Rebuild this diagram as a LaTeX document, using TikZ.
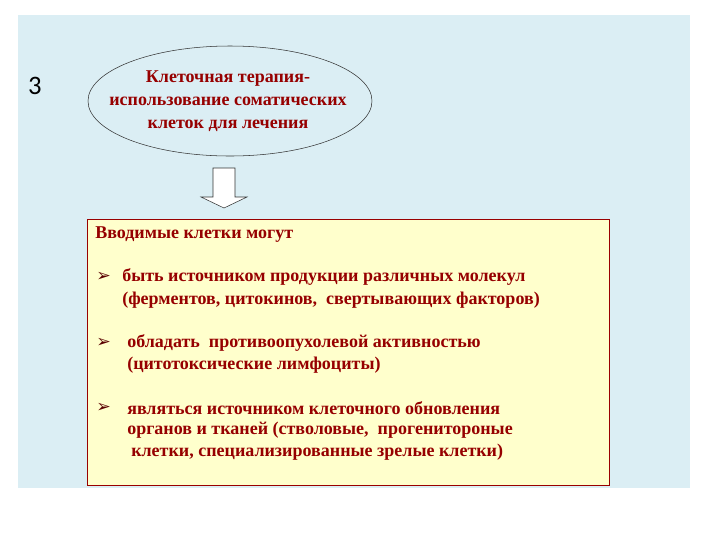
\documentclass[tikz,border=0pt]{standalone}
\usepackage{fontspec}
\setmainfont{Liberation Serif}
\newfontfamily\symf{DejaVu Sans}
\newfontfamily\numf{Carlito}
\definecolor{bgblue}{RGB}{219,238,244}
\definecolor{txtred}{RGB}{150,0,0}
\definecolor{boxyel}{RGB}{255,255,204}
\begin{document}
\begin{tikzpicture}[x=0.75pt,y=-0.75pt,
  ln/.style={anchor=west,inner sep=0pt,text=txtred,font=\bfseries\fontsize{13.5}{16}\selectfont},
  bul/.style={anchor=west,inner sep=0pt,text=txtred!60!black,font=\symf\fontsize{13}{14}\selectfont}]
\useasboundingbox (0,0) rectangle (720,540);
\fill[white] (0,0) rectangle (720,540);
\fill[bgblue] (18,15) rectangle (690,488);
\node[text=black,font=\numf\fontsize{20}{22}\selectfont] (num) at (35,86) {3};
\draw[black!80,fill=bgblue] (230,101) ellipse [x radius=142, y radius=55];
\node[align=center,text=txtred,font=\bfseries\fontsize{13.5}{17.3}\selectfont] (ell) at (228,101)
  {Клеточная терапия-\\использование соматических\\клеток для лечения};
\draw[black!80,fill=white] (213,168) -- (235,168) -- (235,197) -- (247,197) -- (224,208) -- (201,197) -- (213,197) -- cycle;
\draw[red!60!black,fill=boxyel] (87,219) rectangle (609,485);
\node[ln] (t0) at (95,235) {Вводимые клетки могут};
\node[bul] (b1) at (96,277) {➢};
\node[ln] (t1) at (122,277) {быть источником продукции различных молекул};
\node[ln] (t2) at (122,300) {(ферментов, цитокинов,\ \ свертывающих факторов)};
\node[bul] (b2) at (96,343) {➢};
\node[ln] (t3) at (127,343) {обладать\ \ противоопухолевой активностью};
\node[ln] (t4) at (127,365) {(цитотоксические лимфоциты)};
\node[bul] (b3) at (96,408) {➢};
\node[ln] (t5) at (127,408) {являться источником клеточного обновления};
\node[ln] (t6) at (127,430) {органов и тканей (стволовые,\ \ прогенитороные};
\node[ln] (t7) at (131,452) {клетки, специализированные зрелые клетки)};
\end{tikzpicture}
\end{document}
